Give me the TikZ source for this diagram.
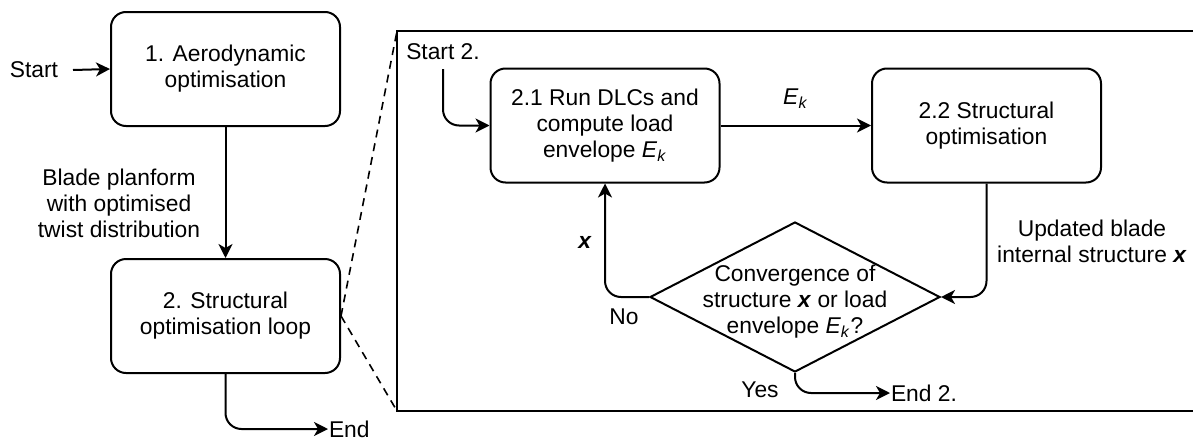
\documentclass[tikz,border=0pt]{standalone}
\usepackage{fontspec}
\setmainfont{Liberation Sans}
\usetikzlibrary{arrows.meta,shapes.geometric}
\newcommand\Ek{\textit{E}\textsubscript{\textit{k}}}
\newcommand\bx{\textbf{\textit{x}}}
\begin{document}
\begin{tikzpicture}[x=0.5pt,y=-0.5pt,
  font=\fontsize{11.4pt}{13pt}\selectfont,
  line width=1pt,
  proc/.style={draw,rounded corners=7.5pt,minimum width=114.5pt,minimum height=57pt,align=center,inner sep=0pt},
  txt/.style={align=center,inner sep=0pt},
  arr/.style={-{Stealth[length=7pt,width=7pt,inset=2pt]},rounded corners=8pt},
  zoomline/.style={dashed,dash pattern=on 4pt off 3pt,line width=0.8pt}]
\useasboundingbox (0,0) rectangle (1193,439);
% left column
\node[txt] (start) at (34,70) {Start};
\coordinate (s0) at (73,70);
\node[proc] (b1) at (225.5,69) {1. Aerodynamic\\optimisation};
\node[proc] (b2) at (225.5,316) {2. Structural\\optimisation loop};
\node[txt] (lblade) at (119,203) {Blade planform\\with optimised\\twist distribution};
\node[txt,anchor=west] (end) at (328,429) {End};
\draw[arr] (s0) -- (b1.west);
\draw[arr] (b1.south) -- (b2.north);
\draw[arr] (b2.south) |- (end.west);
% frame
\coordinate (fTL) at (397,31);
\coordinate (fBL) at (397,411);
\draw (1200,31) -- (fTL) -- (fBL) -- (1200,411);
\draw[zoomline] (b2.east) -- (fTL);
\draw[zoomline] (b2.east) -- (fBL);
% inner loop
\node[txt] (start2) at (443,52) {Start 2.};
\coordinate (s2) at (443,69);
\node[proc] (b21) at (605,125.5) {2.1 Run DLCs and\\compute load\\envelope \Ek};
\node[proc] (b22) at (986.5,125.5) {2.2 Structural\\optimisation};
\node[draw,diamond,minimum width=145pt,minimum height=75pt,inner sep=0pt] (d) at (795,297) {};
\node[txt] (dtext) at (795,302) {Convergence of\\structure \bx{} or load\\envelope \Ek?};
\node[txt,anchor=west] (end2) at (890,393) {End 2.};
\draw[arr] (s2) |- (b21.west);
\draw[arr] (b21.east) -- node[above=8pt,inner sep=0pt] (lek) {\Ek} (b22.west);
\draw[arr] (b22.south) |- (d.east);
\draw[arr] (d.west) -| (b21.south);
\draw[arr] (d.south) |- (end2.west);
\node[txt] (lupd) at (1092,241) {Updated blade\\internal structure \bx};
\node[txt] (lx) at (585,242) {\bx};
\node[txt] (lno) at (624,317) {No};
\node[txt] (lyes) at (760,390) {Yes};
\end{tikzpicture}
\end{document}
